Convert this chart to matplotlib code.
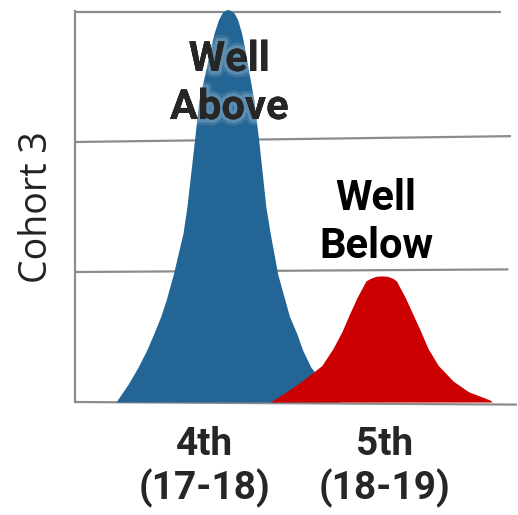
import matplotlib
matplotlib.use("Agg")
import matplotlib.pyplot as plt
import matplotlib.patheffects as pe

# curve outlines (x: 0-10 across the axes, y: 0-3)
blue_x = [0.96, 1.25, 1.48, 1.68, 1.85, 2.01, 2.13, 2.30, 2.53, 2.62, 2.79,
          2.90, 3.08, 3.16, 3.26, 3.36, 3.44, 3.50, 3.58, 3.65, 3.73, 3.81,
          3.90, 3.98, 4.05, 4.19, 4.31, 4.47, 4.57, 4.75, 4.92, 5.02, 5.19,
          5.33, 5.52, 5.66, 5.85, 6.21]
blue_y = [0.00, 0.14, 0.27, 0.40, 0.53, 0.66, 0.78, 0.98, 1.30, 1.50, 1.99,
          2.32, 2.58, 2.71, 2.84, 2.94, 2.99, 3.01, 3.02, 3.01, 2.99, 2.94,
          2.84, 2.71, 2.58, 2.32, 1.99, 1.50, 1.30, 0.98, 0.78, 0.66, 0.53,
          0.40, 0.27, 0.21, 0.12, 0.00]

red_x = [4.57, 4.96, 5.31, 5.78, 6.04, 6.25, 6.42, 6.60, 6.81, 6.91, 7.05,
         7.18, 7.32, 7.45, 7.53, 7.74, 7.92, 8.10, 8.27, 8.51, 8.86, 9.21,
         9.72, 9.77]
red_y = [0.00, 0.08, 0.16, 0.28, 0.41, 0.54, 0.67, 0.80, 0.93, 0.95, 0.967,
         0.97, 0.967, 0.95, 0.93, 0.80, 0.67, 0.54, 0.41, 0.28, 0.16, 0.08,
         0.015, 0.00]

tick_pos = [3.04, 7.24]
tick_labels = ["4th\n(17-18)", "5th\n(18-19)"]

grid_left = [0, 1, 2, 3]
grid_right = [-0.02, 1.02, 2.045, 3.0]
grid_end = [10.35, 10.15, 10.21, 9.98]


def main():
    fig = plt.figure(figsize=(5.18, 5.15), dpi=100)
    ax = fig.add_axes([0.1448, 0.2194, 0.8243, 0.7573])
    ax.set_xlim(0, 10)
    ax.set_ylim(0, 3)

    for yl, yr, xe in zip(grid_left, grid_right, grid_end):
        ax.plot([0, xe], [yl, yr], color="#8c8c8c", lw=1.6, clip_on=False,
                zorder=1, solid_capstyle="butt")

    ax.fill_between(blue_x, blue_y, 0, color="#236595", lw=0, zorder=2,
                    clip_on=False)
    ax.fill_between(red_x, red_y, 0, color="#cc0000", lw=0, zorder=3)

    for s in ["top", "right", "bottom"]:
        ax.spines[s].set_visible(False)
    ax.spines["left"].set_color("#8c8c8c")
    ax.spines["left"].set_linewidth(1.6)
    ax.spines["left"].set_bounds(0, 3.01)

    ax.set_yticks([])
    ax.set_xticks(tick_pos, labels=tick_labels)
    ax.tick_params(axis="x", length=0, pad=17)
    for t in ax.get_xticklabels():
        t.set_fontfamily("Roboto")
        t.set_fontweight("bold")
        t.set_fontsize(28)
        t.set_color("#262626")
        t.set_linespacing(1.18)

    ax.set_ylabel("Cohort 3", fontfamily="Open Sans", fontweight="normal",
                  fontsize=27, color="#222222", labelpad=14)

    glow = [pe.withStroke(linewidth=9, foreground="white", alpha=0.10),
            pe.withStroke(linewidth=5, foreground="white", alpha=0.18),
            pe.Normal()]
    ax.text(3.61, 2.45, "Well\nAbove", ha="center", va="center",
            fontfamily="Roboto", fontweight="bold", fontsize=30,
            color="#262626", linespacing=1.22, zorder=5, path_effects=glow)
    ax.text(7.05, 1.38, "Well\nBelow", ha="center", va="center",
            fontfamily="Roboto", fontweight="bold", fontsize=30,
            color="#000000", linespacing=1.22, zorder=5)

    fig.savefig("out.png", dpi=100)
    plt.close(fig)


if __name__ == "__main__":
    main()
